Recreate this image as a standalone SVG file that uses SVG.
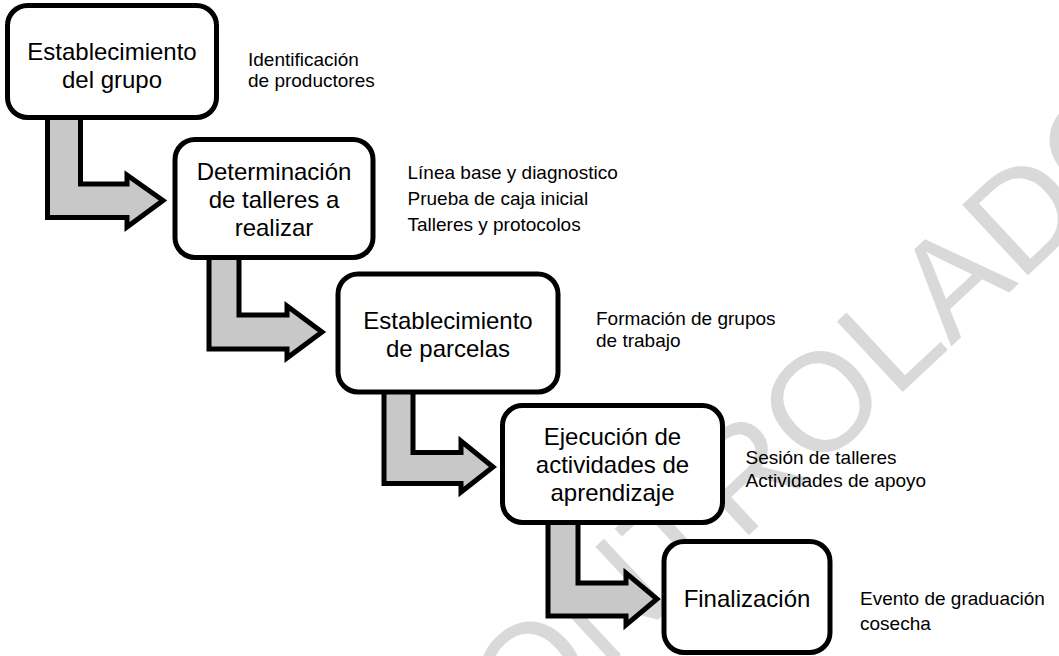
<svg xmlns="http://www.w3.org/2000/svg" width="1059" height="656" viewBox="0 0 1059 656">
<style>
.box{fill:#ffffff;stroke:#000000;stroke-width:5}
.arr{fill:#c8c8c8;stroke:#000000;stroke-width:5;stroke-linejoin:miter}
.t{font-family:"Liberation Sans",Arial,sans-serif;font-size:24px;fill:#000000;text-anchor:middle}
.s{font-family:"Liberation Sans",Arial,sans-serif;font-size:19px;fill:#000000}
.wm{font-family:"Liberation Sans",Arial,sans-serif;font-size:140px;fill:#d9d9d9}
</style>
<rect width="1059" height="656" fill="#ffffff"/>
<text class="wm" x="450.5" y="813.5" transform="rotate(-43 450.5 813.5)">CONTROLADO</text>
<g id="connectors">
<polygon class="arr" points="47.5,117 47.5,217.5 127,217.5 127,227 163,200.5 127,175 127,184 80.5,184 80.5,117"/>
<polygon class="arr" points="209,257 209,349 287,349 287,358 322,332 287,306 287,315 239,315 239,257"/>
<polygon class="arr" points="384,391 384,483.5 461,483.5 461,492 493,467 461,441 461,452.5 413,452.5 413,391"/>
<polygon class="arr" points="548,521 548,616 626,616 626,625 657,599 626,573 626,583 578,583 578,521"/>
</g>
<g id="node1">
<rect class="box" x="7.5" y="5.5" width="209" height="112" rx="20"/>
<text class="t" x="112" y="60">Establecimiento</text>
<text class="t" x="112" y="88">del grupo</text>
<text class="s" x="248" y="66">Identificación</text>
<text class="s" x="248" y="87">de productores</text>
</g>
<g id="node2">
<rect class="box" x="175" y="139.5" width="198" height="118" rx="20"/>
<text class="t" x="274" y="180">Determinación</text>
<text class="t" x="274" y="208">de talleres a</text>
<text class="t" x="274" y="236">realizar</text>
<text class="s" x="407.5" y="179.3">Línea base y diagnostico</text>
<text class="s" x="407.5" y="205">Prueba de caja inicial</text>
<text class="s" x="407.5" y="231">Talleres y protocolos</text>
</g>
<g id="node3">
<rect class="box" x="338" y="274" width="220" height="118" rx="20"/>
<text class="t" x="448" y="329">Establecimiento</text>
<text class="t" x="448" y="356.5">de parcelas</text>
<text class="s" x="596" y="324.5">Formación de grupos</text>
<text class="s" x="596" y="346.5">de trabajo</text>
</g>
<g id="node4">
<rect class="box" x="502.5" y="405.5" width="220" height="117" rx="20"/>
<text class="t" x="612.5" y="445">Ejecución de</text>
<text class="t" x="612.5" y="473">actividades de</text>
<text class="t" x="612.5" y="501">aprendizaje</text>
<text class="s" x="745.5" y="464">Sesión de talleres</text>
<text class="s" x="745.5" y="487">Actividades de apoyo</text>
</g>
<g id="node5">
<rect class="box" x="664" y="541.5" width="166" height="111" rx="20"/>
<text class="t" x="747" y="607">Finalización</text>
<text class="s" x="860" y="605">Evento de graduación</text>
<text class="s" x="860" y="630">cosecha</text>
</g>
</svg>
